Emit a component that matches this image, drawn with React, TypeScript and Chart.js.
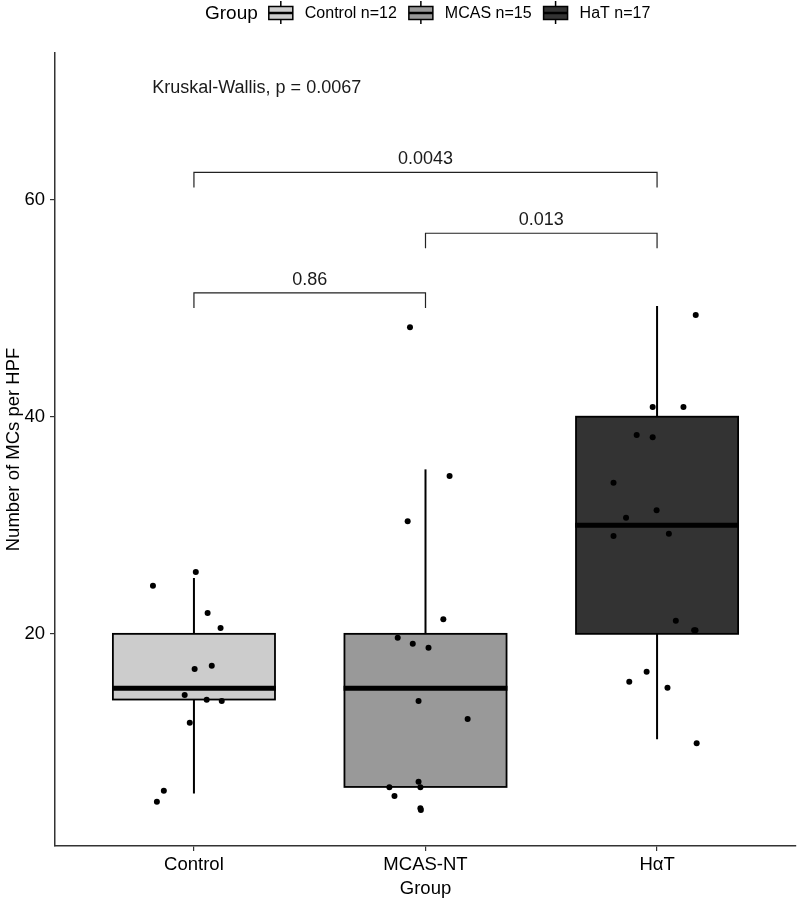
import React, { useEffect, useRef } from 'react';
import { Chart, registerables } from 'chart.js';

Chart.register(...registerables);

const FONT = '"Liberation Sans", Arial, Helvetica, sans-serif';

// Categories and legend
const categories = ['Control', 'MCAS-NT', 'HαT'];
const legendTitle = 'Group';
const legendLabels = ['Control n=12', 'MCAS n=15', 'HaT n=17'];
const fillColors = ['#CCCCCC', '#999999', '#333333'];
const yTickValues = [20, 40, 60];

// Box statistics: [lowerWhisker, q1, median, q3, upperWhisker]
const controlBox = [5.3, 13.95, 15, 20, 25.15];
const mcasBox = [5.9, 5.9, 15, 20, 35.15];
const hatBox = [10.3, 20, 30, 40, 50.2];

// Jittered points (horizontal jitter offset in category units, value)
const controlJitter = [-0.177, 0.008, 0.059, 0.115, 0.003, 0.077, -0.04, 0.055, 0.12, -0.018, -0.13, -0.16];
const controlValues = [24.44, 25.7, 21.92, 20.54, 16.76, 17.07, 14.37, 13.93, 13.82, 11.82, 5.55, 4.54];
const mcasJitter = [-0.067, 0.104, -0.077, 0.077, -0.12, -0.055, 0.013, -0.03, 0.182, -0.156, -0.134, -0.03, -0.022, -0.02, -0.022];
const mcasValues = [48.24, 34.54, 30.37, 21.34, 19.65, 19.09, 18.72, 13.82, 12.16, 5.87, 5.07, 6.38, 5.87, 3.78, 3.93];
const hatJitter = [0.167, -0.019, 0.114, -0.088, -0.019, -0.188, -0.002, -0.134, -0.188, 0.051, 0.081, 0.16, 0.166, -0.045, -0.12, 0.045, 0.171];
const hatValues = [49.37, 40.89, 40.89, 38.32, 38.1, 33.92, 31.38, 30.7, 29.01, 29.22, 21.21, 20.33, 20.33, 16.51, 15.59, 15.04, 9.92];

// Pairwise comparisons
const compFrom = [1, 2, 1];
const compTo = [2, 3, 3];
const compY = [51.4, 56.9, 62.5];
const compLabels = ['0.86', '0.013', '0.0043'];

const kwText = 'Kruskal-Wallis, p = 0.0067';
const kwX = 0.82;
const kwY = 70.3;

const boxes = [controlBox, mcasBox, hatBox];
const jitters = [controlJitter, mcasJitter, hatJitter];
const values = [controlValues, mcasValues, hatValues];

const BOX_HALF = 0.35;

const boxPlugin = {
  id: 'boxes',
  beforeDatasetsDraw(chart: any) {
    const { ctx, scales } = chart;
    const xs = scales.x;
    const ys = scales.y;
    ctx.save();
    boxes.forEach((b, i) => {
      const cx = xs.getPixelForValue(i + 1);
      const x0 = xs.getPixelForValue(i + 1 - BOX_HALF);
      const x1 = xs.getPixelForValue(i + 1 + BOX_HALF);
      const [lw, q1, med, q3, uw] = b;
      ctx.strokeStyle = '#000';
      ctx.lineWidth = 2;
      ctx.beginPath();
      ctx.moveTo(cx, ys.getPixelForValue(uw));
      ctx.lineTo(cx, ys.getPixelForValue(q3));
      ctx.moveTo(cx, ys.getPixelForValue(q1));
      ctx.lineTo(cx, ys.getPixelForValue(lw));
      ctx.stroke();
      const yTop = ys.getPixelForValue(q3);
      const yBot = ys.getPixelForValue(q1);
      ctx.fillStyle = fillColors[i];
      ctx.fillRect(x0, yTop, x1 - x0, yBot - yTop);
      ctx.lineWidth = 1.8;
      ctx.strokeRect(x0, yTop, x1 - x0, yBot - yTop);
      ctx.lineWidth = 5;
      ctx.beginPath();
      const ym = ys.getPixelForValue(med);
      ctx.moveTo(x0 - 0.9, ym);
      ctx.lineTo(x1 + 0.9, ym);
      ctx.stroke();
    });
    ctx.restore();
  },
};

const annotPlugin = {
  id: 'annots',
  afterDatasetsDraw(chart: any) {
    const { ctx, scales } = chart;
    const xs = scales.x;
    const ys = scales.y;
    ctx.save();
    ctx.strokeStyle = '#222';
    ctx.lineWidth = 1.2;
    ctx.fillStyle = '#1a1a1a';
    ctx.font = `18px ${FONT}`;
    ctx.textAlign = 'center';
    ctx.textBaseline = 'middle';
    compFrom.forEach((f, i) => {
      const xa = xs.getPixelForValue(f);
      const xb = xs.getPixelForValue(compTo[i]);
      const y = ys.getPixelForValue(compY[i]);
      const tip = 15;
      ctx.beginPath();
      ctx.moveTo(xa, y + tip);
      ctx.lineTo(xa, y);
      ctx.lineTo(xb, y);
      ctx.lineTo(xb, y + tip);
      ctx.stroke();
      ctx.fillText(compLabels[i], (xa + xb) / 2, y - 13);
    });
    ctx.textAlign = 'left';
    ctx.fillText(kwText, xs.getPixelForValue(kwX), ys.getPixelForValue(kwY));
    ctx.restore();
  },
};

const legendPlugin = {
  id: 'customLegend',
  afterDraw(chart: any) {
    const { ctx } = chart;
    ctx.save();
    const cy = 13;
    let x = 205;
    ctx.textBaseline = 'middle';
    ctx.textAlign = 'left';
    ctx.fillStyle = '#000';
    ctx.font = `19px ${FONT}`;
    ctx.fillText(legendTitle, x, cy + 1);
    x += ctx.measureText(legendTitle).width + 11;
    ctx.font = `16px ${FONT}`;
    legendLabels.forEach((lab, i) => {
      const w = 24;
      ctx.strokeStyle = '#000';
      ctx.lineWidth = 1.5;
      ctx.beginPath();
      ctx.moveTo(x + w / 2, cy - 12);
      ctx.lineTo(x + w / 2, cy + 11);
      ctx.stroke();
      ctx.fillStyle = fillColors[i];
      ctx.fillRect(x, cy - 6.5, w, 13);
      ctx.lineWidth = 1.5;
      ctx.strokeRect(x, cy - 6.5, w, 13);
      ctx.lineWidth = 2.5;
      ctx.beginPath();
      ctx.moveTo(x, cy);
      ctx.lineTo(x + w, cy);
      ctx.stroke();
      x += w + 12;
      ctx.fillStyle = '#000';
      ctx.fillText(lab, x, cy + 1);
      x += ctx.measureText(lab).width + 12;
    });
    ctx.restore();
  },
};

export default function App() {
  const ref = useRef<HTMLCanvasElement | null>(null);
  useEffect(() => {
    document.body.style.margin = '0';
    const canvas = ref.current;
    if (!canvas) return;
    const points: { x: number; y: number }[] = [];
    values.forEach((vals, gi) => {
      vals.forEach((v, j) => points.push({ x: gi + 1 + jitters[gi][j], y: v }));
    });
    const chart = new Chart(canvas, {
      type: 'scatter',
      data: {
        datasets: [
          {
            data: points,
            pointRadius: 3,
            pointBorderWidth: 0,
            backgroundColor: '#000',
            borderColor: '#000',
          },
        ],
      },
      options: {
        responsive: false,
        animation: false,
        layout: { padding: { top: 53, right: 1, left: 0, bottom: 0 } },
        plugins: { legend: { display: false }, tooltip: { enabled: false } },
        scales: {
          x: {
            type: 'linear',
            min: 0.4,
            max: 3.6,
            afterBuildTicks: (s: any) => {
              s.ticks = categories.map((_, i) => ({ value: i + 1 }));
            },
            afterFit: (s: any) => {
              s.height = 55;
            },
            ticks: {
              callback: (v: any) => categories[Number(v) - 1],
              color: '#000',
              font: { family: FONT, size: 18.5 },
              padding: 3,
              maxRotation: 0,
              autoSkip: false,
            },
            grid: { drawOnChartArea: false, drawTicks: true, tickLength: 5, color: '#333', lineWidth: 1.2 },
            border: { display: true, color: '#333', width: 1.5 },
            title: {
              display: true,
              text: 'Group',
              color: '#000',
              font: { family: FONT, size: 18.5 },
              padding: { top: 0, bottom: 1 },
            },
          },
          y: {
            type: 'linear',
            min: 0.46,
            max: 73.5,
            afterBuildTicks: (s: any) => {
              s.ticks = yTickValues.map((v) => ({ value: v }));
            },
            afterFit: (s: any) => {
              s.width = 55;
            },
            ticks: {
              callback: (v: any) => String(v),
              color: '#000',
              font: { family: FONT, size: 18.5 },
              padding: 5,
            },
            grid: { drawOnChartArea: false, drawTicks: true, tickLength: 5, color: '#333', lineWidth: 1.2 },
            border: { display: true, color: '#333', width: 1.5 },
            title: {
              display: true,
              text: 'Number of MCs per HPF',
              color: '#000',
              font: { family: FONT, size: 18.5 },
              padding: { top: 3, bottom: 0 },
            },
          },
        },
      },
      plugins: [boxPlugin, annotPlugin, legendPlugin],
    });
    return () => chart.destroy();
  }, []);
  return (
    <div style={{ width: 800, height: 901, background: '#fff' }}>
      <canvas ref={ref} width={800} height={901} style={{ display: 'block', width: 800, height: 901 }} />
    </div>
  );
}
